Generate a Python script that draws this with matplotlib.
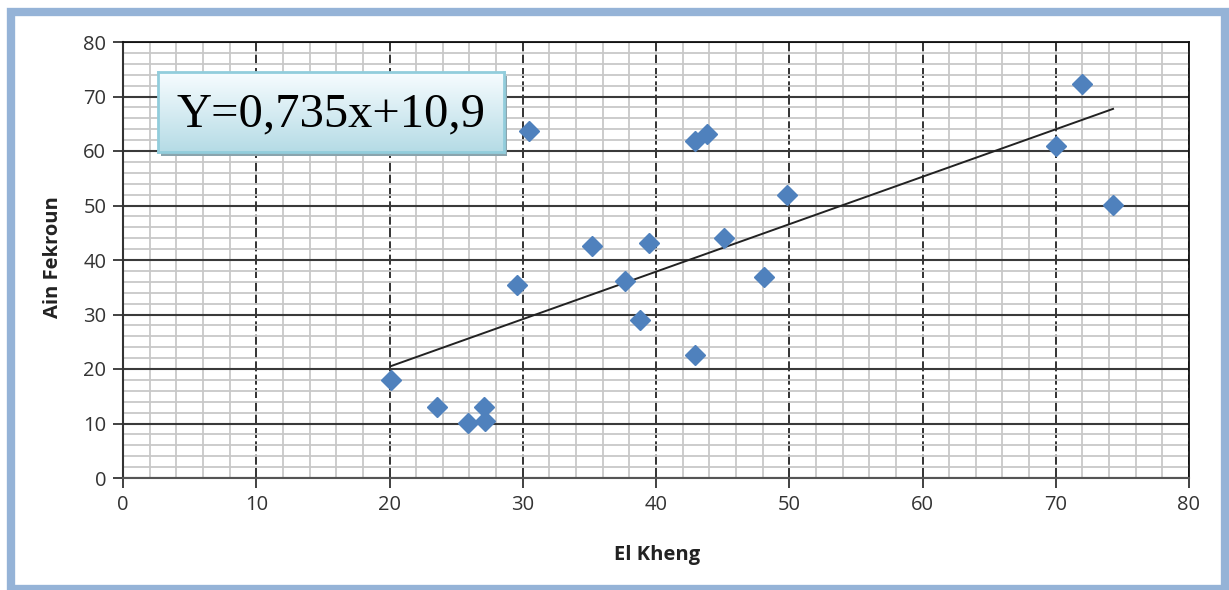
import numpy as np
import matplotlib
matplotlib.use("Agg")
import matplotlib.pyplot as plt
from matplotlib.patches import Rectangle

# Data
el_kheng = [20.1, 23.6, 25.9, 27.1, 27.2, 29.6, 30.5, 35.2, 37.7, 38.8,
            39.5, 42.9, 43.8, 42.9, 45.1, 48.1, 49.8, 70.0, 72.0, 74.3]
ain_fekroun = [18.0, 13.0, 10.1, 13.0, 10.5, 35.4, 63.7, 42.6, 36.1, 29.0,
               43.1, 61.8, 63.1, 22.6, 44.0, 36.9, 51.9, 60.9, 72.3, 50.1]
x_ticks = [0, 10, 20, 30, 40, 50, 60, 70, 80]
y_ticks = [0, 10, 20, 30, 40, 50, 60, 70, 80]
equation_text = "Y=0,735x+10,9"
x_label = "El Kheng"
y_label = "Ain Fekroun"

W, H = 1229, 590
fig = plt.figure(figsize=(W / 100, H / 100), dpi=100)
fig.patch.set_facecolor("white")

# Blue frame
frame = Rectangle((11 / W, 1 - 589 / H), (1225 - 11) / W, (589 - 11.5) / H,
                  transform=fig.transFigure, fill=False,
                  edgecolor="#95B3D7", linewidth=6.0, zorder=0)
fig.patches.append(frame)

ax_h = 478 - 42
ax_w = 1189 - 123
ax = fig.add_axes([123 / W, 1 - 478 / H, ax_w / W, ax_h / H])
ax.set_xlim(0, 80)
ax.set_ylim(0, 80)

ax.set_xticks(x_ticks)
ax.set_yticks(y_ticks)
ax.set_xticks(np.arange(0, 81, 2), minor=True)
ax.set_yticks(np.arange(0, 81, 2), minor=True)

ax.grid(which="minor", color="#c8c8c8", linewidth=1.3, zorder=0)
ax.grid(which="major", axis="y", color="#3a3a3a", linewidth=1.5, zorder=1)
ax.grid(which="major", axis="x", color="#111111", linewidth=1.2,
        linestyle=(0, (6, 2)), zorder=1)
ax.set_axisbelow(True)

for side in ["top", "right"]:
    ax.spines[side].set_color("#111111")
    ax.spines[side].set_linewidth(1.3)
ax.spines["left"].set_color("#333333")
ax.spines["left"].set_linewidth(1.5)
ax.spines["bottom"].set_color("#555555")
ax.spines["bottom"].set_linewidth(1.5)

tick_font = "Open Sans"
ax.tick_params(which="major", direction="out", length=7, width=1.3,
               color="#333333", labelsize=14.5, pad=5)
ax.tick_params(which="minor", length=0)
for lab in ax.get_xticklabels() + ax.get_yticklabels():
    lab.set_fontfamily(tick_font)
    lab.set_color("#333333")

xl_obj = ax.set_xlabel(x_label, fontsize=14.5, fontweight="bold",
                       family=tick_font, color="#222222")
yl_obj = ax.set_ylabel(y_label, fontsize=14.5, fontweight="bold",
                       family=tick_font, color="#222222")
xl_obj.set_va("center")
yl_obj.set_va("center")
ax.xaxis.set_label_coords((657 - 123) / ax_w, (478 - 555) / ax_h)
ax.yaxis.set_label_coords((53 - 123) / ax_w, (478 - 257) / ax_h)

# Scatter points
ax.plot(el_kheng, ain_fekroun, linestyle="none", marker="D", markersize=10.5,
        color="#4F81BD", markeredgecolor="#4F81BD", zorder=4, clip_on=False)

# Linear trend line
xa = np.array(el_kheng)
ya = np.array(ain_fekroun)
slope, intercept = np.polyfit(xa, ya, 1)
xl = np.array([xa.min(), xa.max()])
ax.plot(xl, slope * xl + intercept, color="#222222", linewidth=1.4, zorder=3)

# Equation box with gradient and shadow
bx0, by0, bx1, by1 = 158, 72, 504, 152
shadow = Rectangle(((bx0 + 3) / W, 1 - (by1 + 4) / H), (bx1 - bx0) / W,
                   (by1 - by0) / H, transform=fig.transFigure,
                   facecolor="#8aa4ad", edgecolor="none", zorder=5)
fig.patches.append(shadow)
bax = fig.add_axes([bx0 / W, 1 - by1 / H, (bx1 - bx0) / W, (by1 - by0) / H],
                   zorder=6)
grad = np.linspace(0, 1, 256).reshape(-1, 1)
top_c = np.array([0.97, 0.99, 1.0])
bot_c = np.array([0.71, 0.86, 0.90])
img = top_c[None, None, :] * (1 - grad[:, :, None]) + bot_c[None, None, :] * grad[:, :, None]
bax.imshow(img, aspect="auto", extent=[0, 1, 0, 1], origin="upper")
bax.set_xlim(0, 1)
bax.set_ylim(0, 1)
bax.set_xticks([])
bax.set_yticks([])
for s in bax.spines.values():
    s.set_color("#92CDDC")
    s.set_linewidth(2)
bax.text(0.5, 0.47, equation_text, ha="center", va="center",
         fontsize=35, family="Liberation Serif", color="black")

fig.savefig("out.png", dpi=100, facecolor="white")
